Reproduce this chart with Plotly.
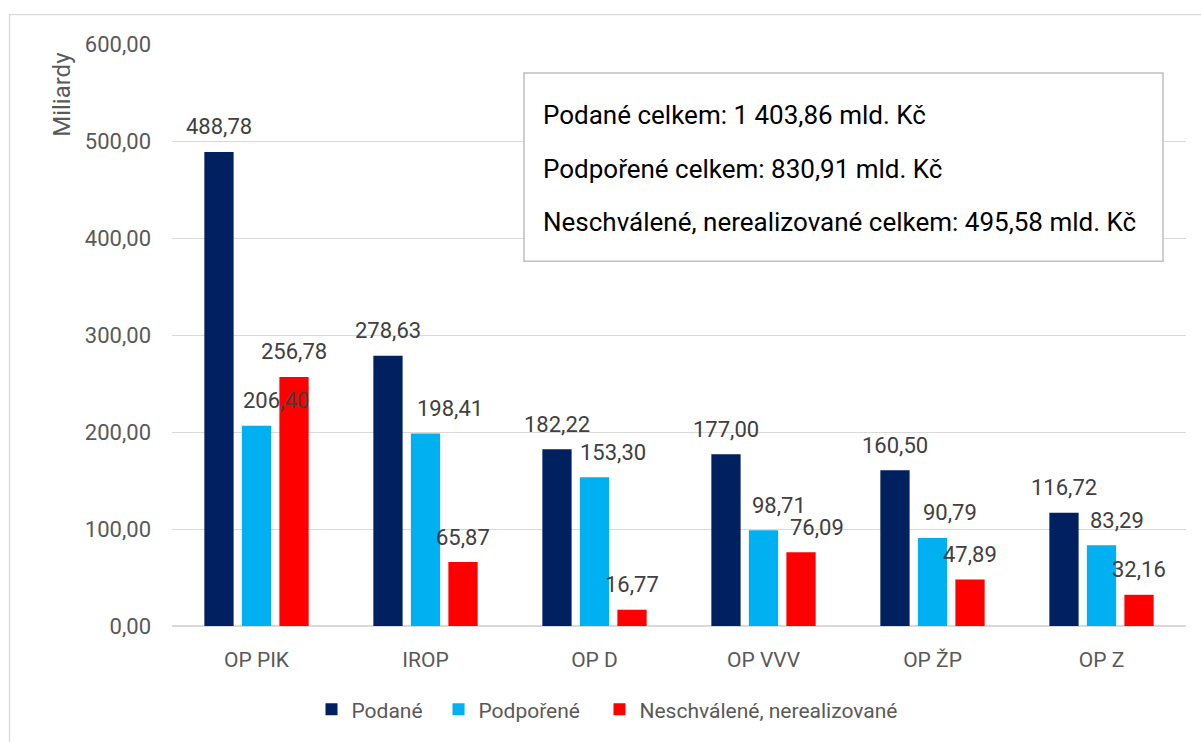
"""Podané / podpořené / neschválené projekty podle operačních programů."""

import plotly.graph_objects as go

# --- data ---
categories = ["OP PIK", "IROP", "OP D", "OP VVV", "OP ŽP", "OP Z"]
podane = [488.78, 278.63, 182.22, 177.00, 160.50, 116.72]
podporene = [206.40, 198.41, 153.30, 98.71, 90.79, 83.29]
neschvalene = [256.78, 65.87, 16.77, 76.09, 47.89, 32.16]

series_names = ["Podané", "Podpořené", "Neschválené, nerealizované"]
totals_text = [
    "Podané celkem: 1 403,86 mld. Kč",
    "Podpořené celkem: 830,91 mld. Kč",
    "Neschválené, nerealizované celkem: 495,58 mld. Kč",
]

# --- style ---
COLORS = ["#002060", "#00B0F0", "#FF0000"]
FONT = "Roboto"
W, H = 1201, 742
M_L, M_R, M_T, M_B = 172, 15, 44, 114
PW, PH = W - M_L - M_R, H - M_T - M_B

# posunutí popisků (px) vůči středu kategorie + ruční doladění jako v Excelu
BAR_SHIFT = [-37.5, 0.0, 37.5]
LABEL_NUDGE = [
    [0, 0, 0, 0, 0, 0],
    [19, 24, 18, 15, 17, 15],
    [0, 0, 0, 16, 0, 0],
]
# levé okraje jednotlivých legend (px)
LEGEND_X = [311.5, 438.5, 599.5]


def px_x(px):
    return (px - M_L) / PW


def px_y(py):
    return (H - M_B - py) / PH


def fmt(v):
    return f"{v:.2f}".replace(".", ",")


fig = go.Figure()
legend_ids = ["legend", "legend2", "legend3"]
for name, vals, color, lg in zip(series_names, [podane, podporene, neschvalene],
                                 COLORS, legend_ids):
    fig.add_trace(
        go.Bar(
            x=categories,
            y=vals,
            name=name,
            legend=lg,
            marker={"color": color, "line": {"width": 0}},
            hoverinfo="x+y+name",
        )
    )

# popisky dat
annotations = []
for s, vals in enumerate([podane, podporene, neschvalene]):
    for i, (cat, v) in enumerate(zip(categories, vals)):
        annotations.append(
            dict(
                x=cat,
                y=v,
                text=fmt(v),
                showarrow=False,
                xshift=BAR_SHIFT[s] + LABEL_NUDGE[s][i],
                yshift=25,
                yanchor="middle",
                font={"family": FONT, "size": 22, "color": "#404040"},
            )
        )

# název osy Y nahoře
annotations.append(
    dict(
        xref="paper", yref="paper",
        x=px_x(62), y=px_y(95),
        text="Miliardy", textangle=-90, showarrow=False,
        xanchor="center", yanchor="middle",
        font={"family": FONT, "size": 24, "color": "#595959"},
    )
)

# textový rámeček se součty
for line, yc in zip(totals_text, [115, 169, 223]):
    annotations.append(
        dict(
            xref="paper", yref="paper",
            x=px_x(541), y=px_y(yc),
            text=line, showarrow=False,
            xanchor="left", yanchor="middle",
            font={"family": FONT, "size": 26, "color": "#000000"},
        )
    )

shapes = [
    # rámeček grafu (vidět jen levý a horní okraj)
    dict(type="rect", xref="paper", yref="paper",
         x0=px_x(9.5), x1=px_x(1240), y0=px_y(14.5), y1=px_y(780),
         line={"color": "#d9d9d9", "width": 1.3}, layer="below"),
    # rámeček se součty
    dict(type="rect", xref="paper", yref="paper",
         x0=px_x(524), x1=px_x(1163), y0=px_y(73), y1=px_y(262),
         line={"color": "#bfbfbf", "width": 1.5}, fillcolor="#ffffff"),
]

legend_style = {
    "orientation": "h",
    "xanchor": "left",
    "y": px_y(712),
    "yanchor": "middle",
    "font": {"family": FONT, "size": 21, "color": "#595959"},
    "bgcolor": "rgba(0,0,0,0)",
}

fig.update_layout(
    width=W,
    height=H,
    margin={"l": M_L, "r": M_R, "t": M_T, "b": M_B, "pad": 0},
    paper_bgcolor="#ffffff",
    plot_bgcolor="#ffffff",
    barmode="group",
    bargap=0.334,
    bargroupgap=0.22,
    separators=", ",
    showlegend=True,
    legend={**legend_style, "x": px_x(LEGEND_X[0])},
    legend2={**legend_style, "x": px_x(LEGEND_X[1])},
    legend3={**legend_style, "x": px_x(LEGEND_X[2])},
    annotations=annotations,
    shapes=shapes,
)
fig.update_yaxes(
    range=[0, 600],
    tickvals=[0, 100, 200, 300, 400, 500, 600],
    tickformat=".2f",
    showgrid=True,
    gridcolor="#d9d9d9",
    gridwidth=1.3,
    zeroline=True,
    zerolinecolor="#d9d9d9",
    zerolinewidth=1.5,
    ticks="",
    ticklabelstandoff=20,
    tickfont={"family": FONT, "size": 22, "color": "#595959"},
    fixedrange=True,
)
fig.update_xaxes(
    showgrid=False,
    showline=False,
    ticks="",
    ticklabelstandoff=19,
    tickfont={"family": FONT, "size": 21, "color": "#595959"},
    fixedrange=True,
)

# stránka bez výchozího okraje těla, aby graf seděl od levého horního rohu
fig.write_html(
    "out.html",
    config={"displayModeBar": False},
    post_script="document.body.style.margin='0';",
)
